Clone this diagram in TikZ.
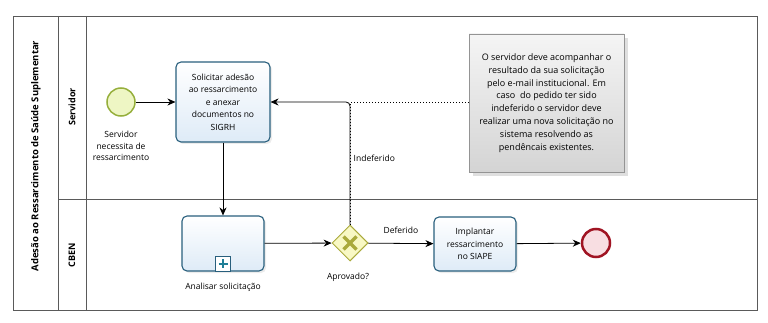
\documentclass[tikz,border=0pt]{standalone}
\usepackage{fontspec}
\setmainfont{Open Sans}
\usepackage{tikz}
\usetikzlibrary{arrows.meta,calc,positioning,shapes.geometric,shadows}
\definecolor{taskblue}{RGB}{40,95,125}
\definecolor{taskfill}{RGB}{222,235,247}
\definecolor{startgreen}{RGB}{150,175,60}
\definecolor{startfill}{RGB}{238,246,196}
\definecolor{gateolive}{RGB}{170,170,60}
\definecolor{gatefill}{RGB}{248,248,196}
\definecolor{endred}{RGB}{160,20,35}
\definecolor{endfill}{RGB}{248,222,226}
\definecolor{notegray}{RGB}{212,212,212}
\definecolor{poolgray}{RGB}{90,90,90}

\tikzset{
  pool/.style={draw=poolgray, line width=0.9pt},
  task/.style={draw=taskblue, line width=1.1pt, rounded corners=5pt, top color=white, bottom color=taskfill,
    align=center, inner sep=2pt, font=\fontsize{8.5}{12.5}\selectfont,
    drop shadow={opacity=0.15, shadow xshift=2pt, shadow yshift=-2pt}},
  txt/.style={align=center, font=\fontsize{8.5}{11.5}\selectfont},
  flow/.style={line width=0.8pt, -{Stealth[length=8pt,width=7pt]}},
  assoc/.style={line width=1pt, dotted},
}

\begin{document}
\begin{tikzpicture}[x=1pt,y=-1pt]
    \useasboundingbox (0,0) rectangle (768,323);
    \draw[pool] (13,16) rectangle (757,310);
    \draw[pool] (58,16) -- (58,310);
    \draw[pool] (86,16) -- (86,310);
    \draw[pool] (58,199) -- (757,199);
    \node[rotate=90, font=\fontsize{9.5}{11}\selectfont\bfseries] (pooltitle) at (36,156) {Adesão ao Ressarcimento de Saúde Suplementar};
    \node[rotate=90, font=\fontsize{9}{10}\selectfont\bfseries] (laneservidor) at (72,107) {Servidor};
    \node[rotate=90, font=\fontsize{9}{10}\selectfont\bfseries] (lanecben) at (72,255) {CBEN};

    \node[circle, draw=startgreen, line width=1.5pt, fill=startfill, minimum size=28pt, inner sep=0pt] (start) at (121,102) {};
    \node[txt] (startlabel) at (121,146) {Servidor\\necessita de\\ressarcimento};
    \node[task, minimum width=94pt, minimum height=80pt] (solicitar) at (223,102) {Solicitar adesão\\ao ressarcimento\\e anexar\\documentos no\\SIGRH};
    \node[task, minimum width=82pt, minimum height=55pt] (analisar) at (223,243.5) {};
    \node[draw=taskblue, line width=0.8pt, fill=white, minimum size=15pt, inner sep=0pt, anchor=south] (plusbox) at (analisar.south) {};
    \draw[taskblue!80!cyan, line width=2pt] ($(plusbox.center)+(-4.5,0)$) -- ($(plusbox.center)+(4.5,0)$)
        ($(plusbox.center)+(0,-4.5)$) -- ($(plusbox.center)+(0,4.5)$);
    \node[txt] (analisarlabel) at (223,287) {Analisar solicitação};

    \node[diamond, draw=gateolive, line width=1pt, fill=gatefill, minimum width=36pt, minimum height=36pt, inner sep=0pt] (gateway) at (350,243) {};
    \draw[gateolive, line width=3.2pt] ($(gateway.center)+(-6.5,-6.5)$) -- ($(gateway.center)+(6.5,6.5)$)
        ($(gateway.center)+(-6.5,6.5)$) -- ($(gateway.center)+(6.5,-6.5)$);
    \node[txt] (gatewaylabel) at (348,277) {Aprovado?};

    \node[task, minimum width=82pt, minimum height=54pt] (implantar) at (475,244) {Implantar\\ressarcimento\\no SIAPE};
    \node[circle, draw=endred, line width=2.5pt, fill=endfill, minimum size=28pt, inner sep=0pt] (end) at (596,243) {};

    \node[draw=notegray!70!black, line width=0.5pt, top color=gray!8, bottom color=notegray, minimum width=155pt, minimum height=138pt,
        align=center, font=\fontsize{9}{12.8}\selectfont, drop shadow={opacity=0.25, shadow xshift=4pt, shadow yshift=-4pt}] (note) at (546.5,103)
        {O servidor deve acompanhar o\\resultado da sua solicitação\\pelo e-mail institucional. Em\\caso\ \ do pedido ter sido\\indeferido o servidor deve\\realizar uma nova solicitação no\\sistema resolvendo as\\pendêncais existentes.};

    \draw[flow] (start) -- (solicitar);
    \draw[flow] (solicitar) -- (analisar);
    \draw[flow] (analisar) -- (gateway);
    \draw[flow] (gateway) -- node[txt, above=6pt] {Deferido} (implantar);
    \draw[flow] (implantar) -- (end);
    \draw[flow, rounded corners=4pt] (gateway.north) |- node[txt, pos=0.27, right] {Indeferido} (solicitar.east);
    \draw[assoc] (note.west) -| (gateway.north);
\end{tikzpicture}
\end{document}
